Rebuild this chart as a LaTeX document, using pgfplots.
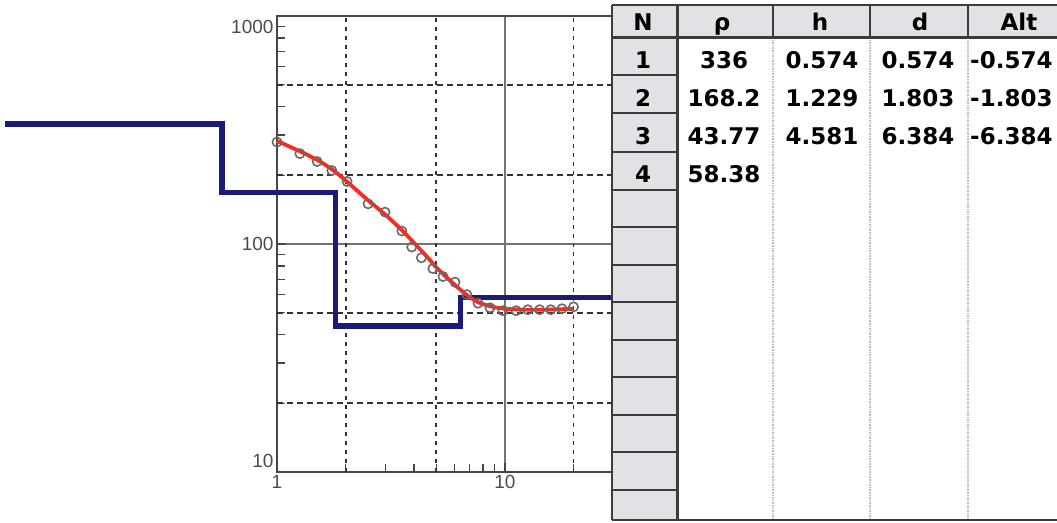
\documentclass[border=0pt]{standalone}
\usepackage{pgfplots}
\pgfplotsset{compat=1.18}
\usepackage{fontspec}
\setmainfont{Liberation Sans}
\newfontfamily\tabfont{DejaVu Sans}
\definecolor{navy}{RGB}{26,26,120}
\definecolor{fitred}{RGB}{255,40,30}
\definecolor{axisc}{RGB}{70,70,70}
\definecolor{gridc}{RGB}{50,50,50}
\definecolor{solidgrid}{RGB}{115,115,115}
\definecolor{labc}{RGB}{75,75,75}
\definecolor{markc}{RGB}{105,105,105}
\definecolor{cellgray}{RGB}{226,226,230}
\definecolor{celline}{RGB}{60,60,60}
\definecolor{dotline}{RGB}{185,190,200}
\begin{document}
\begin{tikzpicture}
\path[use as bounding box] (0,0) rectangle (1057pt,522pt);
\begin{axis}[
  at={(277pt,50pt)}, anchor=south west, scale only axis,
  width=335pt, height=456pt,
  xmode=log, ymode=log,
  xmin=1, xmax=29.5, ymin=10, ymax=1000,
  clip=false,
  axis line style={draw=axisc, line width=2pt},
  /pgf/number format/assume math mode=true,
  xtick={1,10}, xticklabels={1,10},
  ytick={10,100,1000},
  yticklabels={\raisebox{11pt}[14pt][0pt]{10},100,\raisebox{-11pt}[14pt][0pt]{1000}},
  minor xtick={2,3,4,5,6,7,8,9,20},
  minor ytick={20,30,40,50,60,70,80,90,200,300,400,500,600,700,800,900},
  xtick pos=left, ytick pos=left,
  tick align=inside,
  major tick length=9pt, minor tick length=8pt,
  tick style={draw=axisc, line width=1.5pt},
  tick label style={font=\fontsize{19}{19}\selectfont, text=labc},
  xmajorgrids, ymajorgrids,
  major grid style={draw=solidgrid, line width=2pt, solid},
  extra x ticks={2,5,20}, extra x tick labels={},
  extra x tick style={grid=major, major tick length=0pt,
     major grid style={draw=gridc, line width=1.8pt, dash pattern=on 4pt off 5pt}},
  extra y ticks={20,50,200,500}, extra y tick labels={},
  extra y tick style={grid=major, major tick length=0pt,
     major grid style={draw=gridc, line width=1.8pt, dash pattern=on 6pt off 4pt}},
]
% layered model
\addplot[navy, line width=5.5pt, line join=miter, line cap=rect] coordinates {
  (0.066,336) (0.574,336) (0.574,168.2) (1.803,168.2) (1.803,43.77)
  (6.384,43.77) (6.384,58.38) (29.5,58.38)
};
% measured data
\addplot[only marks, mark=o, mark size=4.6pt, mark options={draw=markc, fill=white, line width=1.6pt}] coordinates {
  (1.00,280) (1.26,249) (1.50,230) (1.74,210) (2.03,188) (2.51,150) (2.98,138)
  (3.53,114) (3.90,97) (4.30,87) (4.83,78) (5.35,72) (6.04,68) (6.81,60)
  (7.62,55) (8.6,52.5) (9.8,51) (11.2,51) (12.6,51.5) (14.2,51.5) (15.9,51.5)
  (17.8,52) (20.0,53)
};
% fitted curve
\addplot[fitred, line width=3.8pt, smooth] coordinates {
  (1,283) (1.25,256) (1.5,234) (1.75,212) (2,190) (2.5,156) (3,134) (3.5,116)
  (4,101) (4.5,89) (5,79) (5.5,72) (6,66.5) (6.5,62) (7,58.5) (7.5,56)
  (8,54.5) (9,52.8) (10,52) (12,51.5) (15,51.5) (20,52)
};
\end{axis}
\begin{axis}[
  at={(0pt,0pt)}, anchor=south west, scale only axis,
  width=1057pt, height=522pt,
  xmin=0, xmax=1057, ymin=0, ymax=522, y dir=reverse,
  hide axis, clip=false,
]
\fill[white] (612,3) rectangle (1057,522);
\fill[cellgray] (612,5) rectangle (1057,37);
\fill[cellgray] (612,37) rectangle (677,520);
% dotted column separators
\draw[dotline, line width=1.6pt, densely dotted] (773,37) -- (773,520);
\draw[dotline, line width=1.6pt, densely dotted] (870,37) -- (870,520);
\draw[dotline, line width=1.6pt, densely dotted] (968,37) -- (968,520);
% header borders
\draw[celline, line width=2pt] (612,5) -- (1057,5);
\draw[celline, line width=3pt] (612,37) -- (1057,37);
\draw[celline, line width=2.5pt] (773,5) -- (773,37);
\draw[celline, line width=2.5pt] (870,5) -- (870,37);
\draw[celline, line width=2.5pt] (968,5) -- (968,37);
\draw[celline, line width=2pt] (612,5) -- (612,520);
\draw[celline, line width=3pt] (677,5) -- (677,520);
\draw[celline, line width=2.5pt] (612,75) -- (677,75);
\draw[celline, line width=2.5pt] (612,113) -- (677,113);
\draw[celline, line width=2.5pt] (612,152) -- (677,152);
\draw[celline, line width=2.5pt] (612,190) -- (677,190);
\draw[celline, line width=2.5pt] (612,227) -- (677,227);
\draw[celline, line width=2.5pt] (612,265) -- (677,265);
\draw[celline, line width=2.5pt] (612,302) -- (677,302);
\draw[celline, line width=2.5pt] (612,340) -- (677,340);
\draw[celline, line width=2.5pt] (612,377) -- (677,377);
\draw[celline, line width=2.5pt] (612,415) -- (677,415);
\draw[celline, line width=2.5pt] (612,452) -- (677,452);
\draw[celline, line width=2.5pt] (612,490) -- (677,490);
\draw[celline, line width=2.5pt] (612,520) -- (1057,520);
% header text
\begin{scope}[every node/.style={font=\tabfont\bfseries\fontsize{23}{23}\selectfont, inner sep=0pt, anchor=base}]
\node at (643,30) {N};
\node at (722,30) {ρ};
\node at (820,30) {h};
\node at (920,30) {d};
\node at (1019,30) {Alt};
% row numbers
\node at (643,68) {1};
\node at (643,106) {2};
\node at (643,144) {3};
\node at (643,182) {4};
% rho
\node at (724,68) {336};
\node at (724,106) {168.2};
\node at (724,144) {43.77};
\node at (724,182) {58.38};
% h
\node at (822,68) {0.574};
\node at (822,106) {1.229};
\node at (822,144) {4.581};
% d
\node at (918,68) {0.574};
\node at (918,106) {1.803};
\node at (918,144) {6.384};
% Alt
\node[anchor=base west] at (970,68) {-0.574};
\node[anchor=base west] at (970,106) {-1.803};
\node[anchor=base west] at (970,144) {-6.384};
\end{scope}
\end{axis}
\end{tikzpicture}
\end{document}
